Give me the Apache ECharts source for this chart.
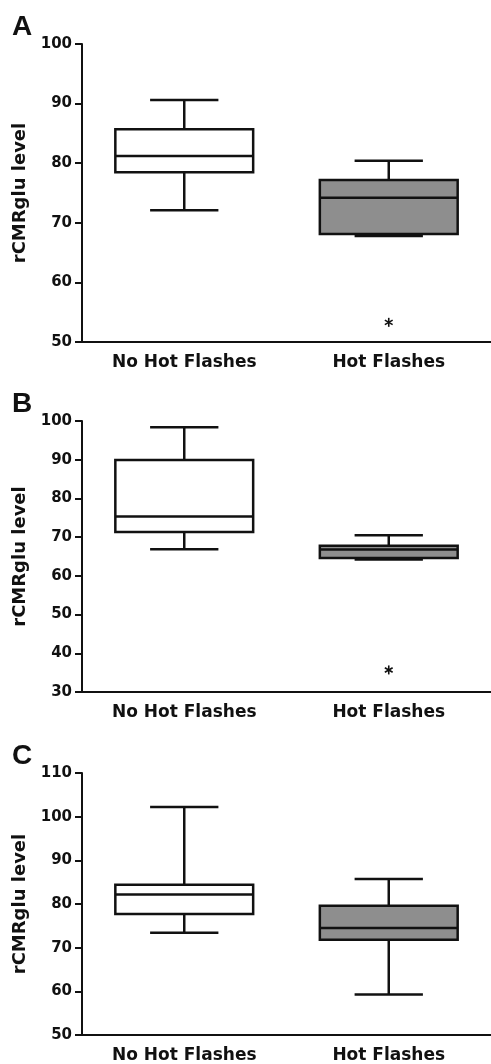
<!DOCTYPE html>
<html>
<head>
<meta charset="utf-8">
<script src="https://cdn.jsdelivr.net/npm/echarts@6/dist/echarts.min.js"></script>
<style>
  html, body { margin: 0; padding: 0; background: #fff; }
  #main { width: 491px; height: 1064px; }
</style>
</head>
<body>
<div id="main"></div>
<script>
let dom = document.getElementById("main")
let myChart = echarts.init(dom)

// groups on the x axis
let categories = ['No Hot Flashes', 'Hot Flashes']

// box values per group: [low whisker, Q1, median, Q3, high whisker]
let boxesA = [[72.1, 78.5, 81.2, 85.7, 90.6], [67.8, 68.1, 74.2, 77.2, 80.4]]
let boxesB = [[66.9, 71.3, 75.3, 89.9, 98.4], [64.2, 64.6, 66.8, 67.8, 70.5]]
let boxesC = [[73.4, 77.7, 82.2, 84.4, 102.2], [59.3, 71.8, 74.5, 79.6, 85.7]]

// outliers: [group index, value]
let outliersA = [[1, 53.3]]
let outliersB = [[1, 35.7]]
let outliersC = []

// y axis ranges: [min, max, interval]
let rangeA = [50, 100, 10]
let rangeB = [30, 100, 10]
let rangeC = [50, 110, 10]

let panelLetters = ['A', 'B', 'C']
let yTitle = 'rCMRglu level'
let boxFills = ['#ffffff', '#8e8e8e']

let FONT = '"DejaVu Sans", sans-serif'
let INK = '#111'

let grids = [
  { left: 82, right: 0, top: 44, height: 298 },
  { left: 82, right: 0, top: 421, height: 271 },
  { left: 82, right: 0, top: 773, height: 265 }
]

let renderBox = function (params, api) {
  let idx = api.value(0)
  let low = api.coord([idx, api.value(1)])
  let q1 = api.coord([idx, api.value(2)])
  let med = api.coord([idx, api.value(3)])
  let q3 = api.coord([idx, api.value(4)])
  let high = api.coord([idx, api.value(5)])
  let band = api.size([1, 0])[0]
  let half = band * 0.337
  let cap = band * 0.167
  let x = low[0]
  let st = { stroke: INK, lineWidth: 2.5 }
  return {
    type: 'group',
    children: [
      { type: 'line', shape: { x1: x, y1: high[1], x2: x, y2: q3[1] }, style: st },
      { type: 'line', shape: { x1: x, y1: q1[1], x2: x, y2: low[1] }, style: st },
      { type: 'line', shape: { x1: x - cap, y1: high[1], x2: x + cap, y2: high[1] }, style: st },
      { type: 'line', shape: { x1: x - cap, y1: low[1], x2: x + cap, y2: low[1] }, style: st },
      {
        type: 'rect',
        shape: { x: x - half, y: q3[1], width: half * 2, height: q1[1] - q3[1] },
        style: { fill: boxFills[idx], stroke: INK, lineWidth: 2.5 }
      },
      { type: 'line', shape: { x1: x - half, y1: med[1], x2: x + half, y2: med[1] }, style: st }
    ]
  }
}

// outlier drawn as a small asterisk
let renderStar = function (params, api) {
  let p = api.coord([api.value(0), api.value(1)])
  let r = 4.5
  let st = { stroke: INK, lineWidth: 1.6 }
  let lines = []
  for (let k = 0; k < 3; k++) {
    let a = Math.PI / 2 + k * Math.PI / 3
    lines.push({
      type: 'line',
      shape: {
        x1: p[0] - r * Math.cos(a), y1: p[1] - r * Math.sin(a),
        x2: p[0] + r * Math.cos(a), y2: p[1] + r * Math.sin(a)
      },
      style: st
    })
  }
  return { type: 'group', children: lines }
}

let panels = [
  { boxes: boxesA, outliers: outliersA, range: rangeA },
  { boxes: boxesB, outliers: outliersB, range: rangeB },
  { boxes: boxesC, outliers: outliersC, range: rangeC }
]

let xAxes = [], yAxes = [], series = [], graphics = []

panels.forEach(function (p, i) {
  xAxes.push({
    type: 'category',
    gridIndex: i,
    data: categories,
    boundaryGap: true,
    axisLine: { lineStyle: { color: INK, width: 2 } },
    axisTick: { alignWithLabel: true, length: 6, lineStyle: { color: INK, width: 2 } },
    axisLabel: { color: INK, fontFamily: FONT, fontWeight: 'bold', fontSize: 17, margin: 12 },
    splitLine: { show: false }
  })
  yAxes.push({
    type: 'value',
    gridIndex: i,
    min: p.range[0],
    max: p.range[1],
    interval: p.range[2],
    name: yTitle,
    nameLocation: 'middle',
    nameGap: 47,
    nameTextStyle: { color: INK, fontFamily: FONT, fontWeight: 'bold', fontSize: 18 },
    axisLine: { show: true, lineStyle: { color: INK, width: 2 } },
    axisTick: { show: true, length: 7, lineStyle: { color: INK, width: 2 } },
    axisLabel: { color: INK, fontFamily: FONT, fontWeight: 'bold', fontSize: 15, margin: 10 },
    splitLine: { show: false }
  })
  series.push({
    type: 'custom',
    xAxisIndex: i,
    yAxisIndex: i,
    renderItem: renderBox,
    data: p.boxes.map(function (b, k) { return [k].concat(b) }),
    z: 3
  })
  series.push({
    type: 'custom',
    xAxisIndex: i,
    yAxisIndex: i,
    renderItem: renderStar,
    data: p.outliers,
    z: 4
  })
  graphics.push({
    type: 'text',
    left: 12,
    top: grids[i].top - 31,
    silent: true,
    style: {
      text: panelLetters[i],
      fill: INK,
      font: 'bold 28px "Liberation Sans", sans-serif'
    }
  })
})

let option = {
  animation: false,
  backgroundColor: '#fff',
  grid: grids,
  xAxis: xAxes,
  yAxis: yAxes,
  graphic: graphics,
  series: series
}

myChart.setOption(option, true)

window.addEventListener('resize', function () {
  myChart.resize()
})
</script>
</body>
</html>
